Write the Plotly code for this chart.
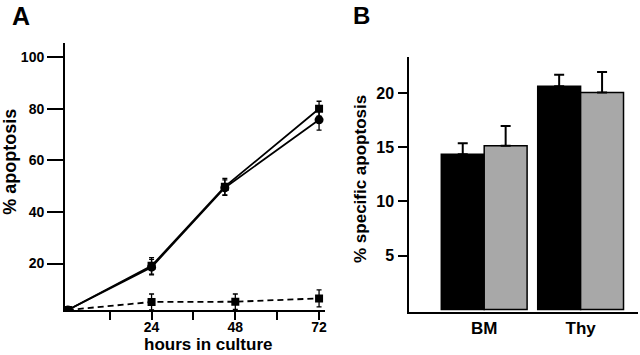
import plotly.graph_objects as go

# ---------- Panel A data ----------
hours_sq = [0, 24, 45, 72]
apop_sq = [2, 19.1, 49.8, 80.0]
err_sq = [0, 3.2, 3.2, 2.9]

hours_ci = [0, 24, 45, 72]
apop_ci = [2, 18.6, 49.4, 75.7]
err_ci = [0, 3.0, 3.0, 4.0]

hours_dash = [0, 24, 48, 72]
apop_dash = [2, 5.1, 5.2, 6.5]
err_dash = [0, 3.1, 3.0, 3.3]

x_tickvals = [12, 24, 36, 48, 60, 72]
x_ticktext = ["", "24", "", "48", "", "72"]
y_tickvals_a = [20, 40, 60, 80, 100]

# ---------- Panel B data ----------
categories = ["BM", "Thy"]
black_vals = [14.36, 20.67]
black_err = [1.02, 1.05]
grey_vals = [15.16, 20.09]
grey_err = [1.82, 1.9]
y_tickvals_b = [5, 10, 15, 20]

FONT = "Liberation Sans, Arial, sans-serif"

fig = go.Figure()

fig.add_trace(go.Scatter(
    x=hours_ci, y=apop_ci, mode="lines+markers",
    line=dict(color="black", width=1.8),
    marker=dict(symbol="circle", size=9, color="black"),
    error_y=dict(type="data", array=err_ci, color="black", thickness=1.3, width=2.5),
    xaxis="x", yaxis="y", showlegend=False))
fig.add_trace(go.Scatter(
    x=hours_sq, y=apop_sq, mode="lines+markers",
    line=dict(color="black", width=1.8),
    marker=dict(symbol="square", size=8, color="black"),
    error_y=dict(type="data", array=err_sq, color="black", thickness=1.3, width=2.5),
    xaxis="x", yaxis="y", showlegend=False))
fig.add_trace(go.Scatter(
    x=hours_dash, y=apop_dash, mode="lines+markers",
    line=dict(color="black", width=1.8, dash="6px,4px"),
    marker=dict(symbol="square", size=8, color="black"),
    error_y=dict(type="data", array=err_dash, color="black", thickness=1.3, width=2.5),
    xaxis="x", yaxis="y", showlegend=False))

fig.add_trace(go.Bar(
    x=categories, y=black_vals, marker=dict(color="black", line=dict(color="black", width=1.5)),
    error_y=dict(type="data", symmetric=False, array=black_err, arrayminus=[0, 0],
                 color="black", thickness=2, width=5),
    xaxis="x2", yaxis="y2", showlegend=False))
fig.add_trace(go.Bar(
    x=categories, y=grey_vals, marker=dict(color="#a8a8a8", line=dict(color="black", width=1.5)),
    error_y=dict(type="data", symmetric=False, array=grey_err, arrayminus=[0, 0],
                 color="black", thickness=2, width=5),
    xaxis="x2", yaxis="y2", showlegend=False))

axis_common = dict(showline=True, linecolor="black", linewidth=2, showgrid=False,
                   zeroline=False, ticks="outside", tickcolor="black", tickwidth=2,
                   automargin=False)

fig.update_layout(
    width=640, height=355,
    margin=dict(l=0, r=0, t=0, b=0),
    paper_bgcolor="white", plot_bgcolor="white",
    barmode="group", bargap=0.11, bargroupgap=0,
    font=dict(family=FONT, color="black"),
    xaxis=dict(domain=[0.1016, 0.5078], range=[-0.8, 73.7], tickvals=x_tickvals,
               ticktext=x_ticktext, ticklen=8, anchor="y", ticklabelstandoff=-5,
               tickfont=dict(size=14, family=FONT, weight="bold"), **axis_common),
    yaxis=dict(domain=[0.1268, 0.8797], range=[2, 105.6], tickvals=y_tickvals_a,
               ticklen=16, anchor="x", ticklabelstandoff=0,
               tickfont=dict(size=14, family=FONT, weight="bold"), **axis_common),
    xaxis2=dict(domain=[0.6395, 0.997], range=[-0.777, 1.596], anchor="y2",
                showline=True, linecolor="black", linewidth=2, showgrid=False,
                zeroline=False, ticks="", ticklabelstandoff=0, automargin=False,
                tickfont=dict(size=17, family=FONT, weight="bold")),
    yaxis2=dict(domain=[0.122, 0.8403], range=[-0.2, 23.4], tickvals=y_tickvals_b,
                ticklen=9, anchor="x2", ticklabelstandoff=1,
                tickfont=dict(size=16, family=FONT, weight="bold"), **axis_common),
    annotations=[
        dict(text="A", x=10/640, y=1.0, xref="paper", yref="paper", xanchor="left",
             yanchor="top", showarrow=False, font=dict(size=25, family=FONT, weight="bold")),
        dict(text="B", x=351/640, y=1.0, xref="paper", yref="paper", xanchor="left",
             yanchor="top", showarrow=False, font=dict(size=24, family=FONT, weight="bold")),
        dict(text="% apoptosis", x=10/640, y=(355-161.7)/355, xref="paper", yref="paper",
             textangle=-90, showarrow=False, xanchor="center", yanchor="middle",
             font=dict(size=18, family=FONT, weight="bold")),
        dict(text="hours in culture", x=208/640, y=(355-344.5)/355, xref="paper", yref="paper",
             showarrow=False, xanchor="center", yanchor="middle",
             font=dict(size=17, family=FONT, weight="bold")),
        dict(text="% specific apoptosis", x=360/640, y=(355-179)/355, xref="paper", yref="paper",
             textangle=-90, showarrow=False, xanchor="center", yanchor="middle",
             font=dict(size=17, family=FONT, weight="bold")),
    ],
)

fig.write_html("out.html", config={"displayModeBar": False},
               post_script="document.body.style.margin='0';document.body.style.overflow='hidden';")
